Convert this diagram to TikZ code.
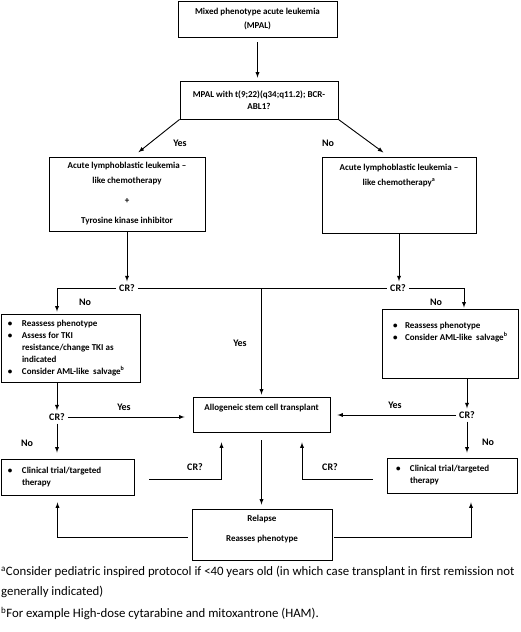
\documentclass[tikz,border=0pt]{standalone}
\usepackage{fontspec}
\setmainfont{Carlito}
\usepackage{tikz}
\usetikzlibrary{arrows}
\tikzset{>=latex}
\tikzset{box/.style = {draw, line width=0.9pt, inner sep=0pt, align=center, font=\fontsize{9}{12}\selectfont\bfseries}}
\tikzset{lbl/.style = {inner sep=3pt, font=\fontsize{10}{12}\selectfont\bfseries}}
\tikzset{link/.style = {->, line width=0.9pt}}
\tikzset{note/.style = {inner sep=0pt, align=left, font=\fontsize{12.8}{20}\selectfont}}

\begin{document}
\begin{tikzpicture}[x=1pt, y=-1pt]
                \useasboundingbox (0,0) rectangle (520,632);

                % boxes
                \node[box, minimum width=159pt, minimum height=36pt, font=\fontsize{9}{13.5}\selectfont\bfseries] (mpal) at (257.5,19) {Mixed phenotype acute leukemia\\(MPAL)};
                \node[box, minimum width=158pt, minimum height=38pt] (bcr) at (259,100) {MPAL with t(9;22)(q34;q11.2); BCR-\\ABL1?};
                \node[box, minimum width=156pt, minimum height=74pt, font=\fontsize{9}{15}\selectfont\bfseries] (allL) at (127,194) {Acute lymphoblastic leukemia --\\like chemotherapy\\[5pt]+\\[5pt]Tyrosine kinase inhibitor};
                \node[box, minimum width=154pt, minimum height=76pt, font=\fontsize{9}{15}\selectfont\bfseries] (allR) at (399,195) {\parbox[c][62pt][t]{150pt}{\centering Acute lymphoblastic leukemia --\\like chemotherapy\textsuperscript{a}}};
                \node[box, minimum width=139pt, minimum height=68pt] (reassL) at (70.5,348) {\parbox{125pt}{\begin{tabular}{@{}p{14pt}@{}l@{}}\textbullet & Reassess phenotype\\ \textbullet & Assess for TKI\\ & resistance/change TKI as\\ & indicated\\ \textbullet & Consider AML-like\ \ salvage\textsuperscript{b}\end{tabular}}};
                \node[box, minimum width=136pt, minimum height=69pt] (reassR) at (450,343.5) {\parbox[c][47pt][t]{114pt}{\begin{tabular}{@{}p{12pt}@{}l@{}}\textbullet & Reassess phenotype\\ \textbullet & Consider AML-like\ \ salvage\textsuperscript{b}\end{tabular}}};
                \node[box, minimum width=137pt, minimum height=35pt] (allo) at (261.5,414.5) {\parbox[c][21pt][t]{130pt}{\centering Allogeneic stem cell transplant}};
                \node[box, minimum width=133pt, minimum height=36pt] (clinL) at (67.5,477) {\parbox{119pt}{\begin{tabular}{@{}p{14pt}@{}l@{}}\textbullet & Clinical trial/targeted\\ & therapy\end{tabular}}};
                \node[box, minimum width=130pt, minimum height=35pt] (clinR) at (452,475.5) {\parbox{112pt}{\begin{tabular}{@{}p{14pt}@{}l@{}}\textbullet & Clinical trial/targeted\\ & therapy\end{tabular}}};
                \node[box, minimum width=140pt, minimum height=51pt, font=\fontsize{9}{20}\selectfont\bfseries] (relapse) at (262,534.5) {\parbox[c][39pt][t]{130pt}{\centering Relapse\\Reasses phenotype}};

                % questions and answers
                \node[lbl] (crA) at (127,288) {CR?};
                \node[lbl] (crB) at (398,288) {CR?};
                \node[lbl] (crC) at (57,417) {CR?};
                \node[lbl] (crD) at (467,415) {CR?};
                \node[lbl] (crE) at (195,467) {CR?};
                \node[lbl] (crF) at (330,467) {CR?};
                \node[lbl] (yesA) at (180,143) {Yes};
                \node[lbl] (noA) at (328,143) {No};
                \node[lbl] (noB) at (85,302) {No};
                \node[lbl] (yesB) at (240,343) {Yes};
                \node[lbl] (noC) at (436,302) {No};
                \node[lbl] (yesC) at (124,407) {Yes};
                \node[lbl] (yesD) at (395,405) {Yes};
                \node[lbl] (noD) at (27,443) {No};
                \node[lbl] (noE) at (488,442) {No};

                % footnotes
                \node[note, anchor=north west] (fnA) at (1,566) {\textsuperscript{a}Consider pediatric inspired protocol if <40 years old (in which case transplant in first remission not\\generally indicated)};
                \node[note, anchor=north west] (fnB) at (1,607) {\textsuperscript{b}For example High-dose cytarabine and mitoxantrone (HAM).};

                % connectors
                \draw[link, shorten <=5pt, shorten >=3pt] (mpal.south) -- (mpal.south |- bcr.north);
                \draw[link, shorten >=7pt] (bcr.south west) -- ([xshift=6pt]allL.north);
                \draw[link, shorten >=7pt] (bcr.south east) -- ([xshift=-10pt]allR.north);

                \draw[link] (allL.south) -- (crA.north);
                \draw[link] (allR.south) -- (allR.south |- crB.north);
                \draw[link, shorten >=2pt] (crA.west) -| ([xshift=-13.5pt]reassL.north);
                \draw (crA.east) -- (crB.west);
                \draw[link, shorten >=2pt] (crA.east -| allo.north) -- (allo.north);
                \draw[link, shorten >=1pt] (crB.east) -| ([xshift=14pt]reassR.north);

                \draw[link] (reassL.south -| crC.north) -- (crC.north);
                \draw[link, shorten >=8pt] (crC.east) -- (crC.east -| allo.west);
                \draw[link, shorten >=6pt] (crC.south) -- (crC.south |- clinL.north);
                \draw[link] (reassR.south -| crD.north) -- (crD.north);
                \draw[link, shorten >=7pt] (crD.west) -- (crD.west -| allo.east);
                \draw[link, shorten >=5pt] (crD.south) -- (crD.south |- clinR.north);

                \draw[link, shorten >=10pt] ([xshift=15pt,yshift=-2pt]clinL.east) -| ([xshift=-40pt]allo.south);
                \draw[link, shorten >=10pt] ([xshift=-14pt,yshift=-3.5pt]clinR.west) -| ([xshift=40.5pt]allo.south);
                \draw[link, shorten <=8pt, shorten >=4pt] (allo.south) -- (allo.south |- relapse.north);
                \draw[link, shorten >=7pt] ([xshift=-4pt,yshift=-2.5pt]relapse.west) -| ([xshift=-10pt]clinL.south);
                \draw[link, shorten >=9pt] ([xshift=2pt,yshift=-2.5pt]relapse.east) -| ([xshift=19pt]clinR.south);
            \end{tikzpicture}
\end{document}
